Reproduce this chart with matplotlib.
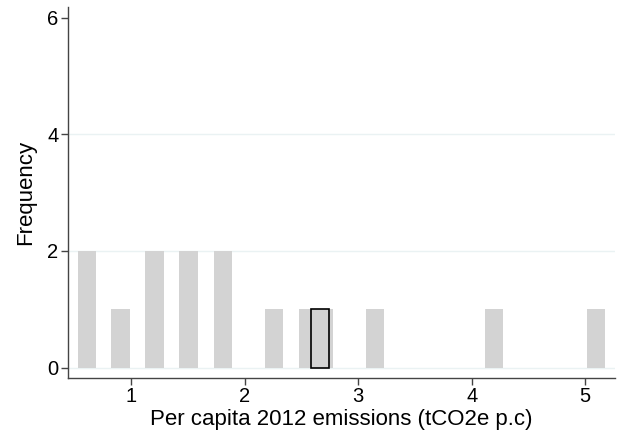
import matplotlib
matplotlib.use("Agg")
import matplotlib.pyplot as plt

# data: emission values (bar centres) and frequencies
values = [0.61, 0.905, 1.205, 1.505, 1.805, 2.255, 2.555, 2.70, 3.15, 4.20, 5.095]
counts = [2, 1, 2, 2, 2, 1, 1, 1, 1, 1, 1]
highlight_value = 2.665
highlight_count = 1
xticks = [1, 2, 3, 4, 5]
yticks = [0, 2, 4, 6]

plt.rcParams['font.family'] = ['Liberation Sans', 'DejaVu Sans']

fig = plt.figure(figsize=(6.23, 4.38), dpi=100)
ax = fig.add_axes([0.1096, 0.1377, 0.987 - 0.1096, 0.984 - 0.1377])

bw = 0.16
ax.bar(values, counts, width=bw, color='#d3d3d3', edgecolor='none', zorder=2)
ax.bar([highlight_value], [highlight_count], width=bw * 0.96, color='#d3d3d3',
       edgecolor='black', linewidth=1.2, zorder=3)

ax.set_xlim(0.445, 5.262)
ax.set_ylim(-0.171, 6.18)
ax.set_xticks(xticks)
ax.set_yticks(yticks)
ax.set_yticklabels([str(t) for t in yticks])
for y in [0, 2, 4]:
    ax.axhline(y, color='#eaf2f3', linewidth=1, zorder=1)

for s in ['top', 'right']:
    ax.spines[s].set_visible(False)
for s in ['left', 'bottom']:
    ax.spines[s].set_color('#444444')
    ax.spines[s].set_linewidth(1.0)
ax.tick_params(axis='both', direction='out', length=5, width=1, color='#444444',
               labelsize=14.5, labelcolor='black', pad=2)

ax.set_xlabel('Per capita 2012 emissions (tCO2e p.c)', fontsize=16, labelpad=2)
ax.set_ylabel('Frequency', fontsize=16, labelpad=8)

fig.savefig('out.png', dpi=100, facecolor='white')
